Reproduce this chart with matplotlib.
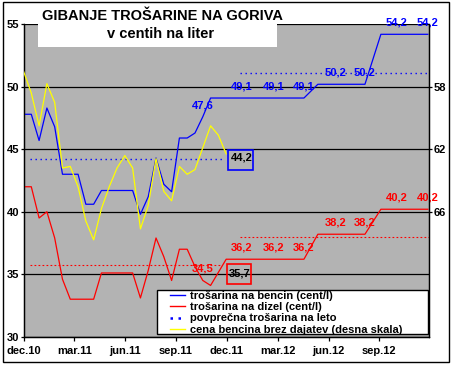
import matplotlib
matplotlib.use('Agg')
import matplotlib.pyplot as plt
from matplotlib.patches import Rectangle
from matplotlib.lines import Line2D

plt.rcParams['font.family'] = ['Liberation Sans', 'DejaVu Sans']
plt.rcParams['font.weight'] = 'bold'

# x positions in months after the start of December 2010
x_2011 = [0.0, 0.46, 0.92, 1.38, 1.84, 2.3, 2.76, 3.22, 3.68, 4.14, 4.6, 5.06, 5.52,
          5.98, 6.44, 6.9, 7.36, 7.82, 8.28, 8.74, 9.2, 9.66, 10.12, 10.58, 11.04,
          11.5, 11.96]
x_2012 = [12.89, 14.78, 16.55, 17.37, 18.44, 20.15, 21.09, 22.03, 23.86]

# excise duty, cent per litre (no value for the 11.5 point)
bencin = [47.8, 47.8, 45.7, 48.3, 46.8, 43.0, 43.0, 43.0, 40.6, 40.6, 41.7, 41.7,
          41.7, 41.7, 41.7, 39.8, 41.2, 44.3, 42.2, 41.6, 45.9, 45.9, 46.3, 47.6,
          49.1, 49.1,
          49.1, 49.1, 49.1, 50.2, 50.2, 50.2, 54.2, 54.2, 54.2]
dizel = [42.0, 42.0, 39.5, 40.0, 37.9, 34.6, 33.0, 33.0, 33.0, 33.0, 35.1, 35.1,
         35.1, 35.1, 35.1, 33.1, 35.3, 37.9, 36.4, 34.5, 37.0, 37.0, 35.6, 34.5,
         34.1, 36.2,
         36.2, 36.2, 36.2, 38.2, 38.2, 38.2, 40.2, 40.2, 40.2]
# petrol price without taxes (right scale, inverted)
cena = [57.0, 58.4, 60.5, 57.8, 59.0, 63.2, 63.1, 64.4, 66.6, 67.8, 65.8, 64.4,
        63.2, 62.4, 63.2, 67.1, 65.6, 62.6, 64.7, 65.3, 63.1, 63.6, 63.3, 61.9,
        60.5, 61.1, 62.3]

# yearly averages
avg_bencin = [44.2, 51.1]
avg_dizel = [35.7, 38.0]
avg_span = [(0.4, 11.7), (12.8, 23.9)]

labeled = [23, 26, 27, 28, 30, 31, 33, 34]

tick_pos = [0, 3, 6, 9, 12, 15, 18, 21]
tick_labels = ['dec.10', 'mar.11', 'jun.11', 'sep.11', 'dec.11', 'mar.12',
               'jun.12', 'sep.12']

x_main = x_2011[:25] + x_2011[26:] + x_2012

fig = plt.figure(figsize=(4.54, 3.74), dpi=100)
ax = fig.add_axes([23.5 / 454, 1 - 336.7 / 374, 405 / 454, 312.4 / 374])
ax.set_facecolor('#b3b3b3')

ax.plot(x_main, bencin, color='#0000ff', lw=0.9, zorder=3)
ax.plot(x_main, dizel, color='#ff0000', lw=0.9, zorder=3)
for (a, b), vb, vd in zip(avg_span, avg_bencin, avg_dizel):
    ax.plot([a, b], [vb, vb], color='#0000ff', lw=1.0, dashes=(1, 2.6), zorder=2)
    ax.plot([a, b], [vd, vd], color='#ff0000', lw=0.8, dashes=(1.6, 2), zorder=2)

for i in labeled:
    ax.annotate(f'{bencin[i]:.1f}'.replace('.', ','), (x_main[i], bencin[i]),
                xytext=(0, 8.3), textcoords='offset points', ha='center',
                va='center', color='#0000ff', fontsize=8, fontweight='bold', zorder=6)
    ax.annotate(f'{dizel[i]:.1f}'.replace('.', ','), (x_main[i], dizel[i]),
                xytext=(0, 8.8), textcoords='offset points', ha='center',
                va='center', color='#ff0000', fontsize=8, fontweight='bold', zorder=6)

# boxes with 2011 averages
ax.add_patch(Rectangle((12.06, 43.38), 1.48, 1.55, fill=False, ec='#0000ff',
                       lw=1.2, zorder=5))
ax.text(12.24, 44.35, '44,2', fontsize=8, fontweight='bold', va='center', zorder=6)
ax.add_patch(Rectangle((11.99, 34.19), 1.41, 1.6, fill=False, ec='#ff0000',
                       lw=1.2, zorder=5))
ax.text(12.14, 35.07, '35,7', fontsize=8, fontweight='bold', va='center', zorder=6)

ax.set_xlim(0, 23.9)
ax.set_ylim(30, 55)
ax.set_yticks([30, 35, 40, 45, 50, 55])
ax.set_xticks(tick_pos)
ax.set_xticklabels(tick_labels)
ax.yaxis.grid(True, color='black', lw=0.9)
ax.set_axisbelow(True)
ax.tick_params(axis='y', direction='out', length=2.5, pad=0.8, labelsize=8, width=0.9)
ax.tick_params(axis='x', direction='out', length=3, pad=3.5, labelsize=8, width=0.9)
for s in ax.spines.values():
    s.set_linewidth(0.9)
ax.spines['top'].set_visible(False)

ax2 = ax.twinx()
ax2.plot(x_2011, cena, color='#ffff00', lw=0.9, zorder=3)
ax2.set_ylim(74, 54)
ax2.set_yticks([58, 62, 66])
ax2.tick_params(axis='y', direction='out', length=2.5, pad=1, labelsize=8, width=0.9)
for s in ax2.spines.values():
    s.set_linewidth(0.9)
ax2.spines['top'].set_visible(False)

# legend box
ax2.add_patch(Rectangle((0.329, 0.0077), 0.669, 0.142, transform=ax2.transAxes,
                        facecolor='white', edgecolor='black', lw=1.0, zorder=8))
handles = [
    Line2D([], [], color='#0000ff', lw=1.0),
    Line2D([], [], color='#ff0000', lw=1.0),
    Line2D([], [], color='#0000ff', lw=1.8, dashes=(1, 2.2)),
    Line2D([], [], color='#ffff00', lw=1.0),
]
names = ['trošarina na bencin (cent/l)', 'trošarina na dizel (cent/l)',
         'povprečna trošarina na leto', 'cena bencina brez dajatev (desna skala)']
leg = ax2.legend(handles, names, loc='upper left',
                 bbox_to_anchor=(0.362, 0.147), borderaxespad=0, borderpad=0,
                 frameon=False, prop={'size': 8, 'weight': 'bold'},
                 handlelength=1.35, handletextpad=0.45, labelspacing=0.12)
leg.set_zorder(9)

# title box
fig.patches.append(Rectangle((38 / 454, 1 - 47 / 374), 239 / 454, 40 / 374,
                             transform=fig.transFigure, facecolor='white',
                             edgecolor='none', zorder=2))
fig.text(163 / 454, 1 - 16 / 374, 'GIBANJE TROŠARINE NA GORIVA', ha='center',
         va='center', fontsize=10.5, fontweight='bold', zorder=3)
fig.text(161 / 454, 1 - 34 / 374, 'v centih na liter', ha='center', va='center',
         fontsize=10.5, fontweight='bold', zorder=3)

# outer frame
fig.patches.append(Rectangle((3 / 454, 12 / 374), 446 / 454, 360 / 374,
                             transform=fig.transFigure, fill=False,
                             edgecolor='black', lw=1.0, zorder=4))

fig.savefig('out.png', dpi=100)
